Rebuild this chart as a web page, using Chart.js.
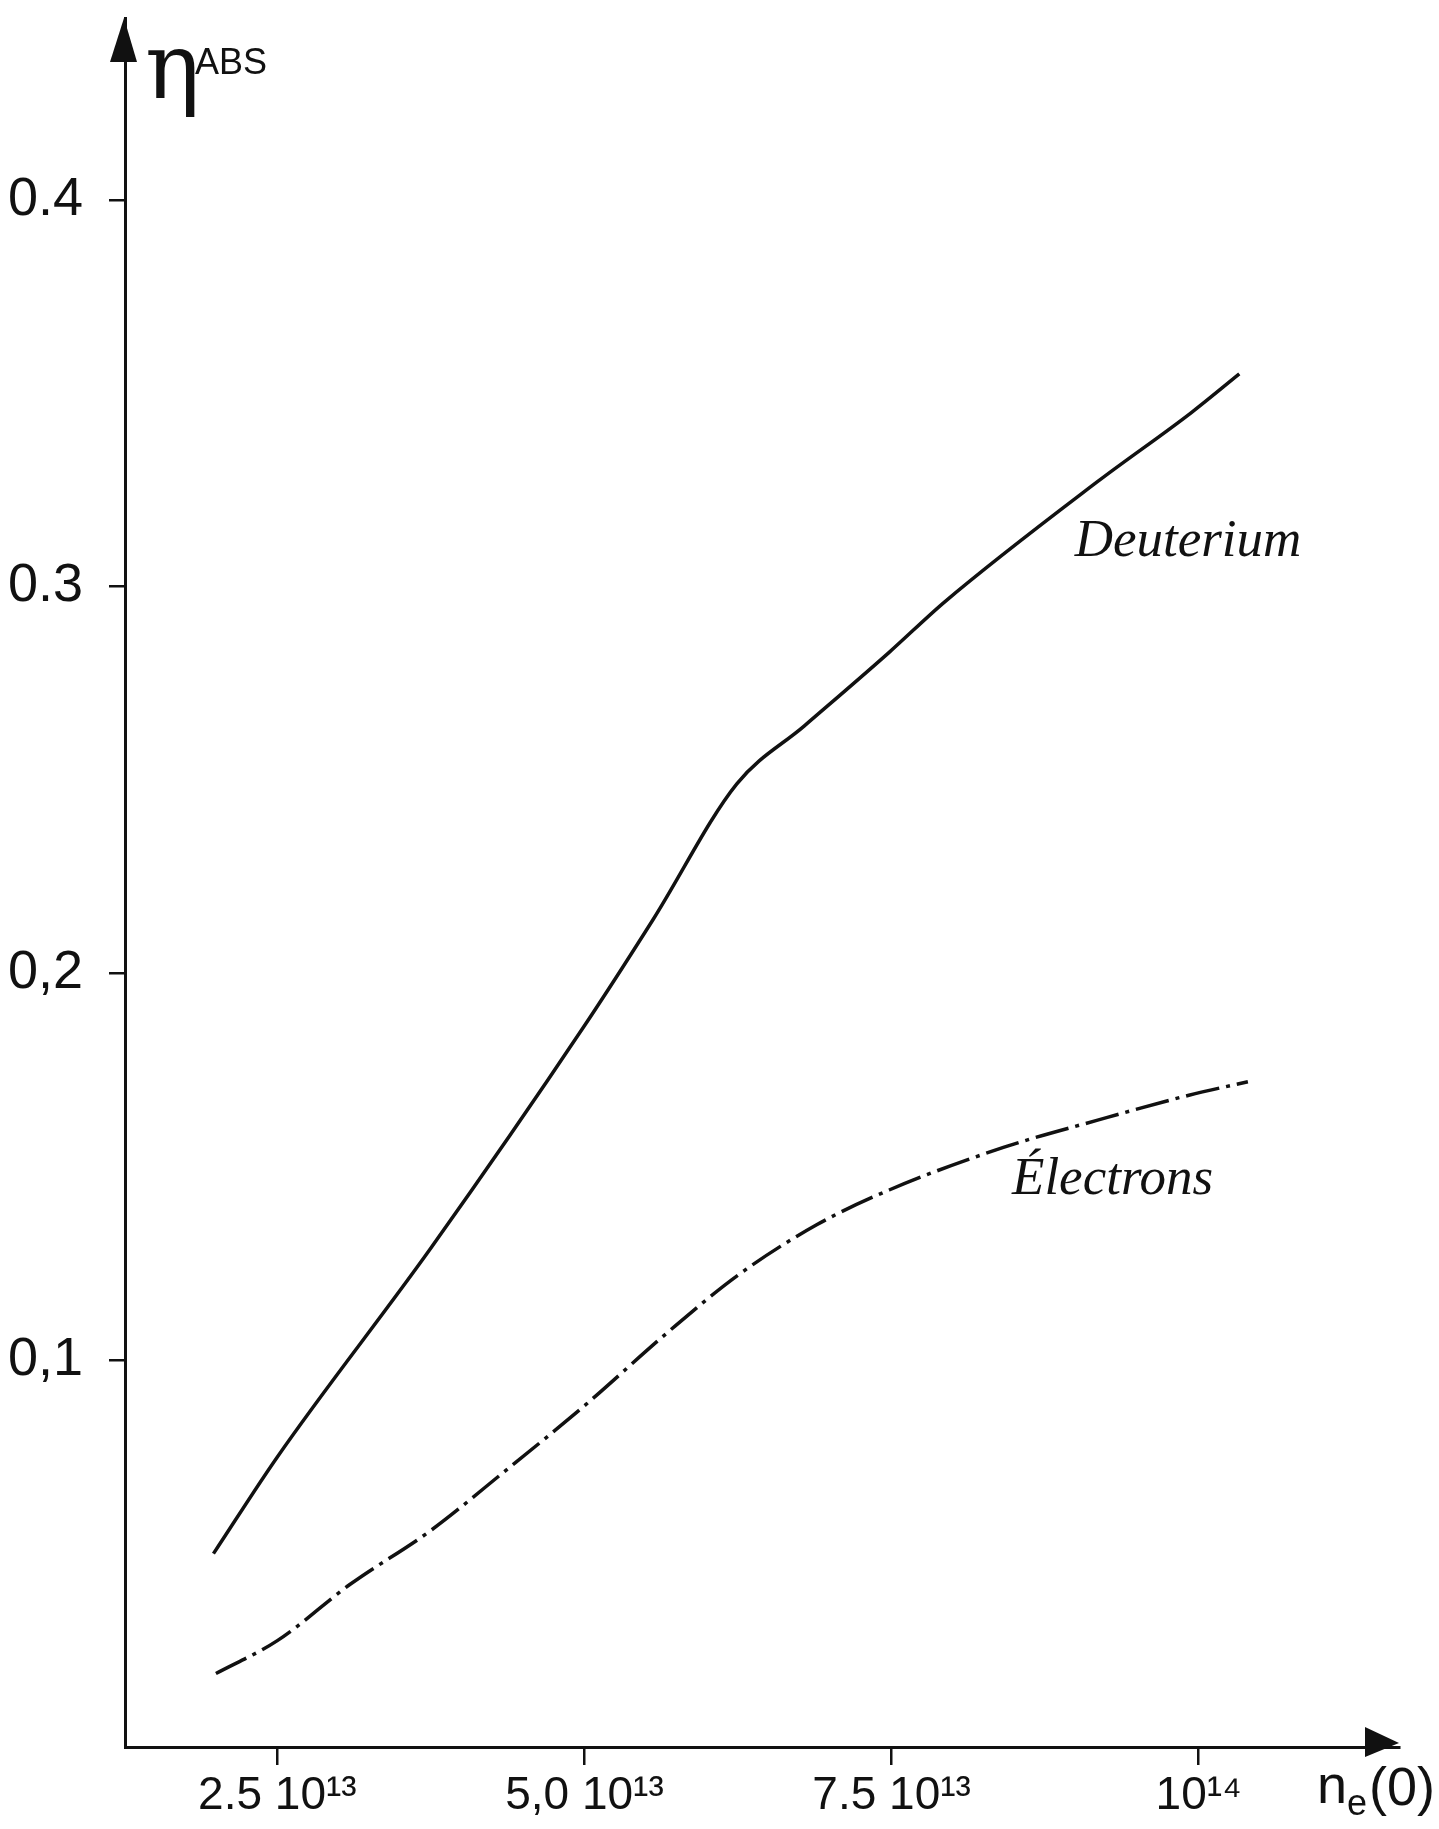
<!DOCTYPE html>
<html>
<head>
<meta charset="utf-8">
<title>η ABS en fonction de ne(0)</title>
<script src="https://cdn.jsdelivr.net/npm/chart.js"></script>
<style>
  html, body { margin: 0; padding: 0; background: #fff; }
  #cadre { width: 1439px; height: 1829px; position: relative; }
</style>
</head>
<body>
<div id="cadre"><canvas id="grafico"></canvas></div>
<script>
// densité centrale ne(0), en unités de 10^13
const deuteriumNe  = [1.98, 2.5, 3.75, 4.99, 5.56, 6.24, 6.79, 7.48, 7.93, 9.17, 9.94, 10.33];
const deuteriumEta = [0.050, 0.075, 0.129, 0.186, 0.214, 0.249, 0.264, 0.283, 0.296, 0.327, 0.345, 0.355];

const electronsNe  = [2.0, 2.5, 3.09, 3.75, 4.34, 5.01, 5.67, 6.25, 6.89, 7.48, 8.41, 9.17, 9.92, 10.4];
const electronsEta = [0.019, 0.0275, 0.042, 0.056, 0.071, 0.0885, 0.107, 0.122, 0.135, 0.144, 0.155, 0.162, 0.1685, 0.172];

const xTicks = [2.5, 5.0, 7.5, 10.0];
const xTickLabels = ['2.5 10¹³', '5,0 10¹³', '7.5 10¹³', '10¹⁴'];
const yTicks = [0.1, 0.2, 0.3, 0.4];
const yTickLabels = ['0,1', '0,2', '0.3', '0.4'];

const seriesNames = ['Deuterium', 'Électrons'];

const police = '"Liberation Sans", "DejaVu Sans", sans-serif';
const policeCourbe = '"Liberation Serif", "DejaVu Serif", serif';

function points(xs, ys) {
    return xs.map((x, i) => ({ x: x, y: ys[i] }));
}

// flèches des axes, titres et noms des courbes
const decorations = {
    id: 'decorations',
    afterDraw(chart) {
        const ctx = chart.ctx;
        const a = chart.chartArea;
        const sx = chart.scales.x;
        const sy = chart.scales.y;
        ctx.save();
        ctx.fillStyle = '#111';

        // flèche verticale
        ctx.beginPath();
        ctx.moveTo(a.left - 1, a.top);
        ctx.lineTo(a.left - 15, a.top + 44);
        ctx.lineTo(a.left + 12, a.top + 44);
        ctx.closePath();
        ctx.fill();

        // flèche horizontale
        ctx.beginPath();
        ctx.moveTo(a.right, a.bottom - 4);
        ctx.lineTo(a.right - 34, a.bottom - 20);
        ctx.lineTo(a.right - 34, a.bottom + 10);
        ctx.closePath();
        ctx.fill();

        // titre axe y : η ABS
        ctx.textBaseline = 'alphabetic';
        ctx.textAlign = 'left';
        ctx.font = '92px "DejaVu Serif", serif';
        ctx.fillText('η', a.left + 20, a.top + 80);
        ctx.font = '36px ' + police;
        ctx.fillText('ABS', a.left + 70, a.top + 56);

        // titre axe x : ne(0)
        ctx.font = '54px ' + police;
        ctx.fillText('n', a.left + 1192, a.bottom + 56);
        ctx.font = '36px ' + police;
        ctx.fillText('e', a.left + 1222, a.bottom + 68);
        ctx.font = '54px ' + police;
        ctx.fillText('(0)', a.left + 1244, a.bottom + 58);

        // noms des courbes
        ctx.font = 'italic 53px ' + policeCourbe;
        ctx.fillText(seriesNames[0], sx.getPixelForValue(8.99), sy.getPixelForValue(0.308));
        ctx.fillText(seriesNames[1], sx.getPixelForValue(8.48), sy.getPixelForValue(0.143));
        ctx.restore();
    }
};

const ctx = document.getElementById('grafico');

new Chart(ctx, {
    type: 'scatter',
    data: {
        datasets: [{
            label: seriesNames[0],
            data: points(deuteriumNe, deuteriumEta),
            showLine: true,
            borderColor: '#111',
            borderWidth: 3.5,
            pointRadius: 0,
            cubicInterpolationMode: 'monotone'
        }, {
            label: seriesNames[1],
            data: points(electronsNe, electronsEta),
            showLine: true,
            borderColor: '#111',
            borderWidth: 3.5,
            borderDash: [34, 7, 4, 7],
            pointRadius: 0,
            cubicInterpolationMode: 'monotone'
        }]
    },
    options: {
        responsive: true,
        maintainAspectRatio: false,
        animation: false,
        layout: {
            padding: { top: 18, right: 40, left: 0, bottom: 0 }
        },
        plugins: {
            legend: { display: false },
            tooltip: { enabled: false }
        },
        scales: {
            x: {
                type: 'linear',
                min: 1.26,
                max: 11.63,
                afterFit(scale) {
                    scale.height = 82;
                    scale.paddingLeft = 0;
                    scale.paddingRight = 0;
                },
                afterBuildTicks(scale) {
                    scale.ticks = xTicks.map(v => ({ value: v }));
                },
                ticks: {
                    color: '#111',
                    padding: 4,
                    maxRotation: 0,
                    autoSkip: false,
                    font: { family: police, size: 46 },
                    callback: (v, i) => xTickLabels[i]
                },
                grid: {
                    drawOnChartArea: false,
                    color: '#111',
                    lineWidth: 2.5,
                    tickLength: 18
                },
                border: { color: '#111', width: 3 }
            },
            y: {
                type: 'linear',
                min: 0,
                max: 0.447,
                afterFit(scale) {
                    scale.width = 125;
                    scale.paddingTop = 0;
                    scale.paddingBottom = 0;
                },
                afterBuildTicks(scale) {
                    scale.ticks = yTicks.map(v => ({ value: v }));
                },
                ticks: {
                    color: '#111',
                    padding: 26,
                    autoSkip: false,
                    font: { family: police, size: 54 },
                    callback: (v, i) => yTickLabels[i]
                },
                grid: {
                    drawOnChartArea: false,
                    color: '#111',
                    lineWidth: 2.5,
                    tickLength: 16
                },
                border: { color: '#111', width: 3 }
            }
        }
    },
    plugins: [decorations]
});
</script>
</body>
</html>
